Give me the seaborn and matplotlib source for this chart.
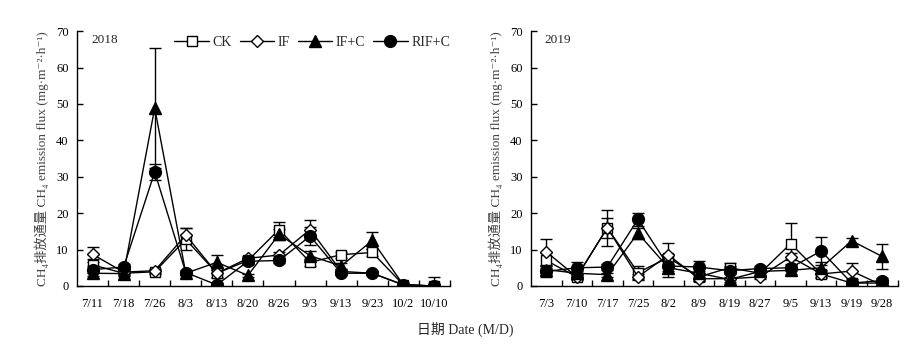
import numpy as np
import pandas as pd
import matplotlib
matplotlib.use("Agg")
import matplotlib.pyplot as plt
from matplotlib.ticker import FixedLocator
import seaborn as sns

# dates (M/D)
dates_2018 = ["7/11", "7/18", "7/26", "8/3", "8/13", "8/20", "8/26", "9/3", "9/13", "9/23", "10/2", "10/10"]
dates_2019 = ["7/3", "7/10", "7/17", "7/25", "8/2", "8/9", "8/19", "8/27", "9/5", "9/13", "9/19", "9/28"]

treatments = ["CK", "IF", "IF+C", "RIF+C"]

# CH4 flux 2018 (mg m-2 h-1)
ck_2018 = [5.8, 3.5, 3.9, 12.8, 3.5, 7.0, 15.5, 6.5, 8.6, 9.2, 0.3, 0.0]
if_2018 = [8.7, 3.8, 4.2, 14.0, 3.5, 7.6, 8.5, 15.5, 4.0, 3.5, 0.3, 0.0]
ifc_2018 = [3.5, 3.4, 48.9, 3.5, 6.5, 2.9, 14.2, 8.3, 5.5, 12.5, 0.3, 0.0]
rifc_2018 = [4.5, 5.2, 31.3, 3.7, 0.3, 6.8, 7.0, 13.7, 3.5, 3.5, 0.3, 0.0]

ck_2018_err = [1.5, 0.8, 0.6, 3.0, 1.0, 0.8, 2.0, 1.0, 0.8, 1.0, 0.3, 2.5]
if_2018_err = [2.0, 0.5, 0.6, 1.8, 1.2, 0.6, 0.8, 2.5, 0.6, 0.5, 0.3, 0.5]
ifc_2018_err = [0.8, 0.5, 16.5, 0.6, 2.0, 0.5, 1.5, 1.2, 0.8, 2.3, 0.3, 0.5]
rifc_2018_err = [1.0, 0.8, 2.3, 0.6, 0.4, 0.8, 0.8, 2.5, 0.6, 0.5, 0.3, 0.5]

# CH4 flux 2019
ck_2019 = [7.0, 2.5, 16.0, 3.7, 7.8, 2.5, 5.0, 3.5, 11.6, 3.3, 0.8, 0.8]
if_2019 = [9.4, 2.5, 16.0, 2.5, 8.5, 2.0, 2.0, 2.5, 8.0, 3.3, 4.1, 0.2]
ifc_2019 = [4.5, 3.5, 3.1, 14.5, 5.0, 3.5, 1.8, 4.0, 4.3, 5.0, 12.4, 8.1]
rifc_2019 = [4.0, 5.0, 5.2, 18.3, 5.5, 5.2, 4.2, 4.8, 5.0, 9.6, 0.8, 1.5]

ck_2019_err = [2.0, 0.8, 5.0, 1.8, 1.0, 1.0, 1.3, 0.6, 5.7, 1.0, 0.5, 0.5]
if_2019_err = [3.5, 0.5, 2.8, 0.8, 3.3, 0.6, 3.5, 0.5, 1.0, 0.8, 2.3, 0.5]
ifc_2019_err = [1.0, 0.5, 0.6, 1.5, 2.5, 0.5, 0.8, 0.5, 1.0, 1.5, 0.8, 3.5]
rifc_2019_err = [1.5, 1.5, 0.8, 1.7, 1.5, 1.6, 1.0, 0.6, 1.0, 3.8, 0.4, 0.6]

sns.set_theme(style="ticks")
plt.rcParams["font.family"] = ["Liberation Serif", "Noto Sans CJK SC", "DejaVu Serif"]

# marker style per treatment
styles = {
    "CK": dict(marker="s", markersize=7.5, markerfacecolor="white"),
    "IF": dict(marker="D", markersize=6.5, markerfacecolor="white"),
    "IF+C": dict(marker="^", markersize=8.5, markerfacecolor="black"),
    "RIF+C": dict(marker="o", markersize=8.5, markerfacecolor="black"),
}


def make_df(dates, vals, errs):
    rows = []
    for t, v, e in zip(treatments, vals, errs):
        for i, d in enumerate(dates):
            rows.append({"pos": i, "date": d, "treatment": t, "flux": v[i], "err": e[i]})
    return pd.DataFrame(rows)


df18 = make_df(dates_2018, [ck_2018, if_2018, ifc_2018, rifc_2018],
               [ck_2018_err, if_2018_err, ifc_2018_err, rifc_2018_err])
df19 = make_df(dates_2019, [ck_2019, if_2019, ifc_2019, rifc_2019],
               [ck_2019_err, if_2019_err, ifc_2019_err, rifc_2019_err])

fig = plt.figure(figsize=(9.21, 3.6), dpi=100)
ax1 = fig.add_axes([0.0836, 0.2056, 0.405, 0.708])
ax2 = fig.add_axes([0.5765, 0.2056, 0.398, 0.708])

ylab = "CH₄排放通量 CH₄ emission flux (mg·m⁻²·h⁻¹)"


def draw(ax, df, dates, year):
    for t in treatments:
        sub = df[df["treatment"] == t]
        ax.errorbar(sub["pos"], sub["flux"], yerr=sub["err"], fmt="none",
                    ecolor="black", elinewidth=1, capsize=4, capthick=1, zorder=2)
        sns.lineplot(data=sub, x="pos", y="flux", ax=ax, color="black", linewidth=1,
                     markeredgecolor="black", markeredgewidth=1, label=t,
                     zorder=3, **styles[t])
    ax.set_xlim(-0.5, len(dates) - 0.5)
    ax.set_ylim(0, 70)
    ax.set_yticks(np.arange(0, 71, 10))
    ax.set_xticks(np.arange(len(dates)), labels=dates)
    ax.xaxis.set_minor_locator(FixedLocator(np.arange(0.5, len(dates), 1.0)))
    ax.tick_params(axis="x", which="major", length=0, labelsize=9, pad=9, colors="black")
    ax.tick_params(axis="x", which="minor", direction="in", length=4, width=1, color="black")
    ax.tick_params(axis="y", direction="in", length=4, width=1, labelsize=9, pad=6, colors="black")
    for s in ["top", "right"]:
        ax.spines[s].set_visible(False)
    for s in ["left", "bottom"]:
        ax.spines[s].set_color("black")
        ax.spines[s].set_linewidth(1)
    ax.set_xlabel("")
    ax.set_ylabel(ylab, fontsize=9.5, color="#444444", labelpad=5)
    ax.text(0.038, 0.965, year, transform=ax.transAxes, fontsize=9.5, va="center", ha="left")


draw(ax1, df18, dates_2018, "2018")
draw(ax2, df19, dates_2019, "2019")

ax2.get_legend().remove()
ax1.legend(loc="center right", bbox_to_anchor=(1.015, 0.955), ncol=4, frameon=False,
           fontsize=10, handlelength=2.5, handletextpad=0.25, columnspacing=0.55,
           borderaxespad=0)

fig.text(0.505, 0.085, "日期 Date (M/D)", ha="center", va="center", fontsize=10)

fig.savefig("out.png", dpi=100)
